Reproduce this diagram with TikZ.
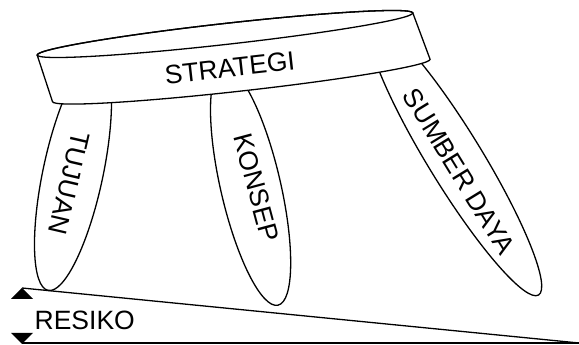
\documentclass[tikz,border=0pt]{standalone}
\usepackage{fontspec}
\setmainfont{Liberation Sans}

\tikzset{
  legtext/.style={inner sep=0pt, font=\fontsize{26.5}{28}\selectfont},
  leg/.style={draw, fill=white}
}

\begin{document}
\begin{tikzpicture}[x=1pt,y=1pt,line width=1.3pt]
  \useasboundingbox (0,0) rectangle (579,345);
  % legs
  \begin{scope}[shift={(73,172)},rotate=78]
    \draw[leg] (0,0) ellipse (120 and 30);
  \end{scope}
  \begin{scope}[shift={(250.6,158.7)},rotate=103]
    \draw[leg] (0,0) ellipse (122 and 30);
  \end{scope}
  \begin{scope}[shift={(455,186.4)},rotate=121.5]
    \draw[leg] (0,0) ellipse (160 and 27);
  \end{scope}
  \node[legtext,rotate=-103] (tujuan) at (69,162) {TUJUAN};
  \node[legtext,rotate=-75] (konsep) at (256.5,157.5) {KONSEP};
  \node[legtext,rotate=-58.5] (sumber) at (459,173.5) {SUMBER DAYA};
  % table top
  \begin{scope}[shift={(225,311)},rotate=6.4]
    \draw[leg] (-189,0) -- (-179,-48)
      arc[start angle=180,end angle=360,x radius=190,y radius=10.5]
      -- (189,0) arc[start angle=0,end angle=180,x radius=189,y radius=10.5] -- cycle;
    \draw (0,0) ellipse (189 and 10.5);
    \node[legtext,rotate=6.4] (strategi) at (1,-34) {STRATEGI};
  \end{scope}
  % ground
  \draw (22,57) -- (579,2);
  \draw[line width=1.6pt] (22,2) -- (579,2);
  \fill (11,46) -- (33,46) -- (22,57) -- cycle;
  \fill (11,12) -- (33,12) -- (22,1) -- cycle;
  \node[legtext,anchor=west] (resiko) at (34,25) {RESIKO};
\end{tikzpicture}
\end{document}
